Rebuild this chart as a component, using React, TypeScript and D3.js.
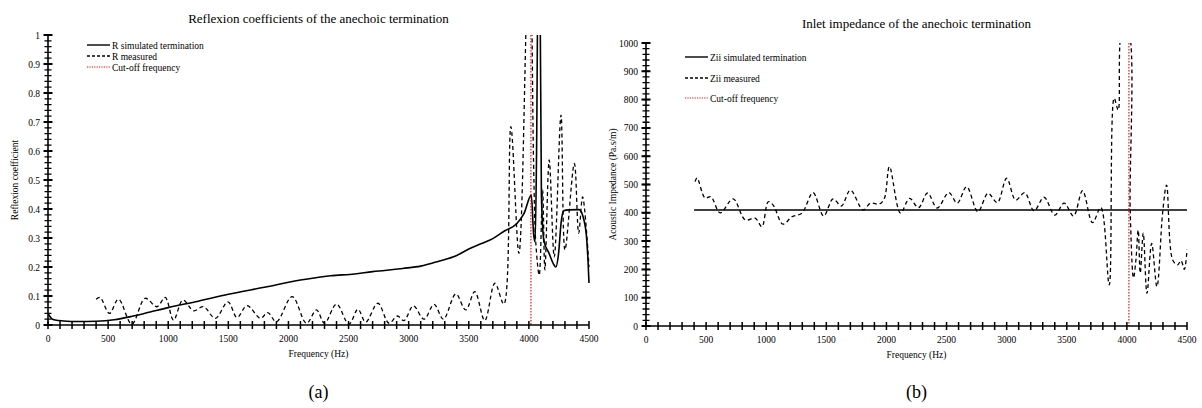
import React from 'react';
import * as d3 from 'd3';

// frequency ticks shared by both panels
const freqTicks = [0, 500, 1000, 1500, 2000, 2500, 3000, 3500, 4000, 4500];
const cutoffFreq = 4017;

// (a) reflexion coefficient
const rSimFreq = [0, 30, 60, 130, 250, 400, 550, 700, 850, 1000, 1250, 1500, 1800, 2100, 2350, 2550, 2700, 2800, 2950, 3100, 3250, 3400, 3500, 3600, 3700, 3800, 3900, 3960, 4020, 4040, 4052, 4064, 4078, 4092, 4104, 4125, 4167, 4205, 4225, 4245, 4270, 4290, 4330, 4417, 4458, 4480, 4492, 4500];
const rSimVal = [0.04, 0.022, 0.017, 0.014, 0.012, 0.013, 0.018, 0.03, 0.045, 0.06, 0.082, 0.106, 0.13, 0.155, 0.17, 0.176, 0.184, 0.188, 0.195, 0.203, 0.22, 0.24, 0.262, 0.28, 0.298, 0.325, 0.35, 0.385, 0.448, 0.31, 0.287, 0.6, 1.3, 1.2, 0.45, 0.29, 0.248, 0.21, 0.2, 0.24, 0.36, 0.394, 0.397, 0.398, 0.362, 0.3, 0.22, 0.145];
const rMeasFreq = [400, 433, 511, 586, 697, 808, 906, 975, 1044, 1122, 1211, 1294, 1392, 1497, 1572, 1656, 1767, 1828, 1900, 2031, 2150, 2233, 2300, 2400, 2503, 2578, 2642, 2744, 2836, 2906, 2961, 3039, 3128, 3211, 3289, 3392, 3475, 3550, 3633, 3717, 3792, 3850, 3917, 3990, 4010, 4039, 4058, 4086, 4114, 4133, 4169, 4211, 4267, 4300, 4378, 4414, 4447, 4500];
const rMeasVal = [0.089, 0.095, 0.04, 0.089, 0.003, 0.092, 0.063, 0.095, 0.017, 0.086, 0.049, 0.063, 0.023, 0.08, 0.026, 0.067, 0.023, 0.043, 0.011, 0.098, 0.006, 0.052, 0.006, 0.072, 0.003, 0.054, 0.01, 0.075, 0.006, 0.031, 0.015, 0.066, 0.02, 0.071, 0.02, 0.107, 0.052, 0.115, 0.015, 0.144, 0.072, 0.684, 0.247, 1.2, 1.3, 0.557, 0.28, 0.172, 0.466, 0.19, 0.569, 0.235, 0.724, 0.259, 0.557, 0.317, 0.442, 0.2];
const rTicks = [0, 0.1, 0.2, 0.3, 0.4, 0.5, 0.6, 0.7, 0.8, 0.9, 1];

// (b) inlet impedance
const zSimFreq = [400, 4500];
const zSimVal = [410, 410];
const zMeasFreq = [408, 425, 492, 539, 617, 725, 825, 908, 964, 1017, 1058, 1139, 1214, 1297, 1389, 1478, 1556, 1625, 1700, 1806, 1867, 1942, 1983, 2025, 2117, 2192, 2267, 2342, 2422, 2519, 2589, 2667, 2761, 2845, 2922, 3000, 3075, 3150, 3228, 3311, 3400, 3478, 3556, 3631, 3714, 3783, 3853, 3894, 3928, 3964, 4006, 4028, 4055, 4075, 4094, 4111, 4136, 4167, 4206, 4250, 4297, 4330, 4381, 4422, 4450, 4478, 4500];
const zMeasVal = [510, 523, 452, 457, 400, 449, 375, 381, 351, 439, 427, 360, 386, 399, 471, 389, 449, 424, 480, 410, 434, 431, 451, 563, 399, 451, 418, 470, 417, 471, 434, 492, 404, 469, 436, 522, 445, 471, 407, 455, 392, 434, 389, 478, 365, 419, 145, 805, 763, 1050, 1050, 399, 170, 233, 339, 187, 328, 115, 292, 139, 399, 498, 233, 216, 231, 200, 270];
const zTicks = [0, 100, 200, 300, 400, 500, 600, 700, 800, 900, 1000];

const FONT = '"Liberation Serif", "Times New Roman", serif';

const Panel = ({ id, left, right, top, bottom, yMax, yTicks, yMinorStep, fmt, sim, meas, title, titleY, yLabel, legend, legendY, caption }) => {
  const x = d3.scaleLinear().domain([0, 4500]).range([left, right]);
  const y = d3.scaleLinear().domain([0, yMax]).range([bottom, top]);
  const simLine = d3.line().x(d => x(d[0])).y(d => y(d[1])).curve(d3.curveMonotoneX);
  const measLine = d3.line().x(d => x(d[0])).y(d => y(d[1])).curve(d3.curveCatmullRom.alpha(0.5));
  const simPts = sim[0].map((f, i) => [f, sim[1][i]]);
  const measPts = meas[0].map((f, i) => [f, meas[1][i]]);
  const xMinor = d3.range(0, 4501, 100);
  const yMinor = d3.range(0, yMax + yMinorStep / 2, yMinorStep);
  const cx = (left + right) / 2;
  const cy = (top + bottom) / 2;

  // tick marks crossing the axes, as one path each
  const xTickPath = xMinor.map(f => `M${x(f)},${bottom - 4}V${bottom + 4}`).join('');
  const yTickPath = yMinor.map(v => `M${left - 3.5},${y(v)}H${left + 3.5}`).join('');
  const yMajorPath = yTicks.map(v => `M${left - 4.5},${y(v)}H${left + 4.5}`).join('');

  return (
    <g fontFamily={FONT} fill="#000">
      <defs>
        <clipPath id={id}>
          <rect x={left} y={top} width={right - left + 2} height={bottom - top} />
        </clipPath>
      </defs>
      <text x={cx} y={titleY} textAnchor="middle" fontSize={13}>{title}</text>
      <g clipPath={`url(#${id})`} fill="none">
        <path d={simLine(simPts)} stroke="#000" strokeWidth={1.6} />
        <path d={measLine(measPts)} stroke="#000" strokeWidth={1.3} strokeDasharray="4,3" />
        <line x1={x(cutoffFreq)} x2={x(cutoffFreq)} y1={top} y2={bottom} stroke="#e00" strokeWidth={1.1} strokeDasharray="1.5,1.5" />
      </g>
      {/* axes */}
      <g fill="none" stroke="#000">
        <path d={`M${left},${bottom}H${right}`} strokeWidth={1.6} />
        <path d={`M${left},${bottom}V${top}`} strokeWidth={1.6} />
        <path d={xTickPath} strokeWidth={1.5} />
        <path d={yTickPath} strokeWidth={1.3} />
        <path d={yMajorPath} strokeWidth={2} />
      </g>
      {freqTicks.map(f => (
        <text key={'xl' + f} x={x(f)} y={bottom + 17} textAnchor="middle" fontSize={9.5}>{f}</text>
      ))}
      {yTicks.map(v => (
        <text key={'yl' + v} x={left - 8} y={y(v) + 3.5} textAnchor="end" fontSize={9.5}>{fmt(v)}</text>
      ))}
      <text x={cx} y={bottom + 32} textAnchor="middle" fontSize={9.5}>Frequency (Hz)</text>
      <text transform={`translate(${left - 30},${cy}) rotate(-90)`} textAnchor="middle" fontSize={9.5}>{yLabel}</text>
      {legend.map((lab, i) => (
        <g key={lab}>
          <line x1={left + 39} x2={left + 62} y1={legendY[i]} y2={legendY[i]}
            stroke={i === 2 ? '#e00' : '#000'} strokeWidth={i === 2 ? 1 : 1.4}
            strokeDasharray={i === 1 ? '3,2' : i === 2 ? '1.2,1.2' : null} />
          <text x={left + 64} y={legendY[i] + 3.5} fontSize={9.5}>{lab}</text>
        </g>
      ))}
      <text x={cx} y={398} textAnchor="middle" fontSize={18}>{caption}</text>
    </g>
  );
};

export default function App() {
  return (
    <svg width={1202} height={408} style={{ position: 'absolute', left: 0, top: 0, background: '#fff' }}>
      <Panel id="clipA" left={48} right={589} top={35} bottom={325} yMax={1} yTicks={rTicks} yMinorStep={0.02}
        fmt={v => (v === 0 || v === 1 ? String(v) : v.toFixed(1))}
        sim={[rSimFreq, rSimVal]} meas={[rMeasFreq, rMeasVal]}
        title="Reflexion coefficients of the anechoic termination" titleY={23}
        yLabel="Reflexion coefficient"
        legend={['R simulated termination', 'R measured', 'Cut-off frequency']} legendY={[45, 56, 67]}
        caption="(a)" />
      <Panel id="clipB" left={646} right={1187} top={43} bottom={326} yMax={1000} yTicks={zTicks} yMinorStep={20}
        fmt={v => String(v)}
        sim={[zSimFreq, zSimVal]} meas={[zMeasFreq, zMeasVal]}
        title="Inlet impedance of the anechoic termination" titleY={28}
        yLabel="Acoustic Impedance (Pa.s/m)"
        legend={['Zii simulated termination', 'Zii measured', 'Cut-off frequency']} legendY={[57, 78, 98]}
        caption="(b)" />
    </svg>
  );
}
